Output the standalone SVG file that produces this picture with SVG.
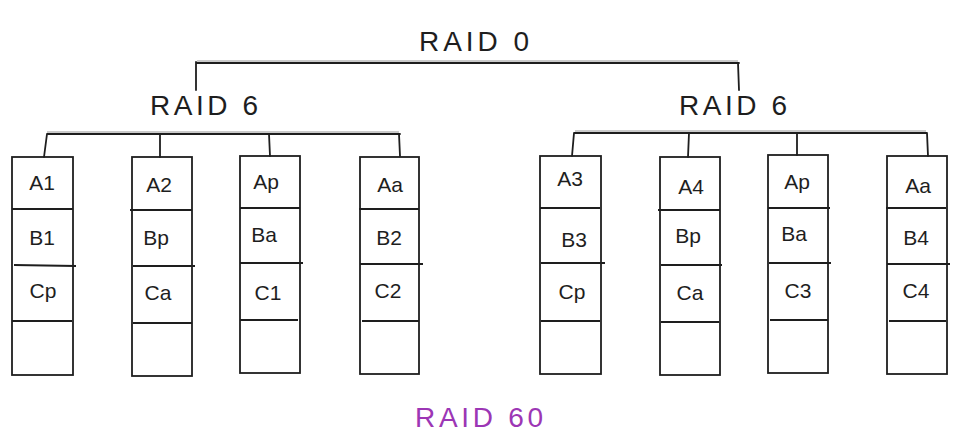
<svg xmlns="http://www.w3.org/2000/svg" width="964" height="444" viewBox="0 0 964 444">
<style>
.bg{fill:#ffffff}
.disk{fill:none;stroke:#1e1e1e;stroke-width:1.8}
.sep{stroke:#1e1e1e;stroke-width:1.8}
.conn{fill:none;stroke:#1e1e1e;stroke-width:1.8;stroke-linecap:round}
.conn2{fill:none;stroke:#1e1e1e;stroke-width:0.8;stroke-opacity:0.6}
.t{font-family:"Liberation Sans",Arial,sans-serif;fill:#1e1e1e;text-anchor:middle}
.title{font-size:28px}
.cell{font-size:21px}
.foot{font-size:28px;fill:#9c36b5}
</style>
<rect class="bg" x="0" y="0" width="964" height="444"/>
<g id="connectors">
<path class="conn" d="M196 63 L739 63 M196 62 L196 90 M738 63 L739 90"/>
<path class="conn2" d="M197 61 L738 61"/>
<path class="conn" d="M47 134 L400 134 M47 134 L44 157 M160 134 L160 157 M269 134 L270 156 M399 134 L400 156"/>
<path class="conn2" d="M47 132 L399 132"/>
<path class="conn" d="M574 133 L927 133 M574 133 L572 156 M689 133 L688 157 M797 133 L797 155 M927 133 L928 156"/>
<path class="conn2" d="M575 131 L926 131"/>
</g>
<g id="raid0"><text class="t title" x="474" y="51" textLength="110">RAID 0</text></g>
<g id="raid6-left"><text class="t title" x="204" y="115" textLength="108">RAID 6</text></g>
<g id="raid6-right"><text class="t title" x="733" y="115" textLength="108">RAID 6</text></g>
<g id="disk1">
<rect class="disk" x="12" y="157" width="61" height="218"/>
<path class="sep" d="M12 209 L73 209 M14 265 L76 266 M12 321 L72 321"/>
<text class="t cell" x="42" y="190">A1</text><text class="t cell" x="42" y="245">B1</text><text class="t cell" x="43" y="298">Cp</text>
</g>
<g id="disk2">
<rect class="disk" x="132" y="157" width="60" height="219"/>
<path class="sep" d="M130 210 L192 210 M133 266 L195 266 M133 323 L192 323"/>
<text class="t cell" x="159" y="192">A2</text><text class="t cell" x="156" y="245">Bp</text><text class="t cell" x="158" y="300">Ca</text>
</g>
<g id="disk3">
<rect class="disk" x="240" y="156" width="60" height="217"/>
<path class="sep" d="M240 208 L300 208 M240 263 L303 263 M240 320 L298 320"/>
<text class="t cell" x="266" y="189">Ap</text><text class="t cell" x="264" y="242">Ba</text><text class="t cell" x="268" y="300">C1</text>
</g>
<g id="disk4">
<rect class="disk" x="360" y="157" width="59" height="217"/>
<path class="sep" d="M359 209 L419 209 M360 264 L423 264 M362 321 L419 321"/>
<text class="t cell" x="390" y="192">Aa</text><text class="t cell" x="389" y="245">B2</text><text class="t cell" x="388" y="298">C2</text>
</g>
<g id="disk5">
<rect class="disk" x="540" y="156" width="61" height="218"/>
<path class="sep" d="M540 208 L600 208 M541 263 L605 263 M541 321 L600 321"/>
<text class="t cell" x="570" y="186">A3</text><text class="t cell" x="574" y="247">B3</text><text class="t cell" x="572" y="299">Cp</text>
</g>
<g id="disk6">
<rect class="disk" x="660" y="157" width="60" height="218"/>
<path class="sep" d="M658 210 L720 210 M661 265 L722 265 M661 322 L719 322"/>
<text class="t cell" x="691" y="194">A4</text><text class="t cell" x="688" y="243">Bp</text><text class="t cell" x="690" y="300">Ca</text>
</g>
<g id="disk7">
<rect class="disk" x="768" y="155" width="60" height="218"/>
<path class="sep" d="M768 208 L830 208 M769 263 L831 263 M770 320 L828 320"/>
<text class="t cell" x="797" y="189">Ap</text><text class="t cell" x="794" y="241">Ba</text><text class="t cell" x="798" y="298">C3</text>
</g>
<g id="disk8">
<rect class="disk" x="887" y="156" width="60" height="218"/>
<path class="sep" d="M886 208 L946 208 M887 264 L950 264 M889 321 L946 321"/>
<text class="t cell" x="918" y="193">Aa</text><text class="t cell" x="916" y="245">B4</text><text class="t cell" x="916" y="298">C4</text>
</g>
<g id="raid60"><text class="t foot" x="479" y="427" textLength="128">RAID 60</text></g>
</svg>
